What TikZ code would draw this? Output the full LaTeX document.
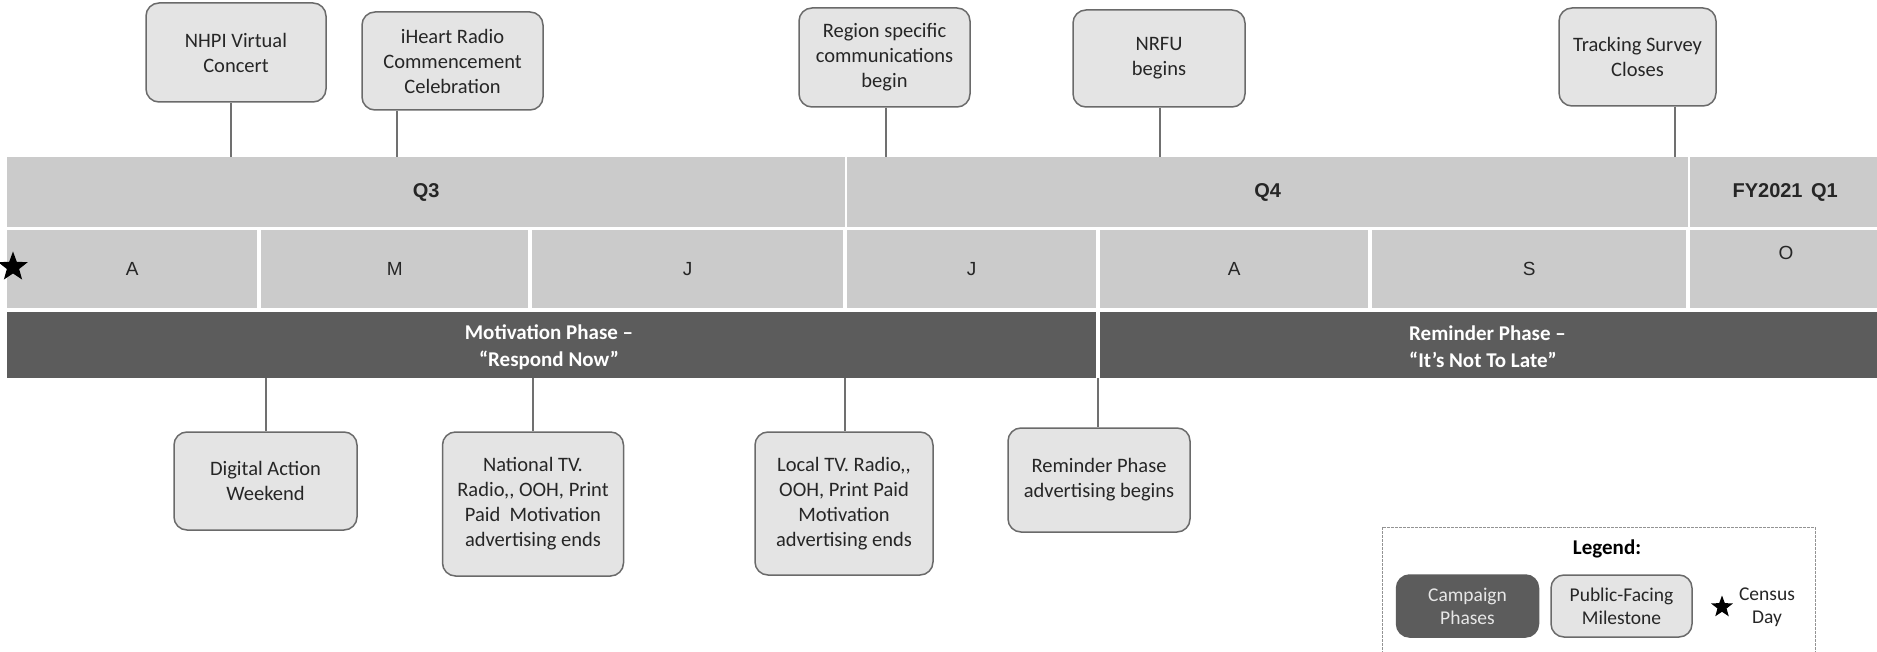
\documentclass[tikz,border=0pt]{standalone}
\usepackage{fontspec}
\setmainfont{Carlito}
\newfontfamily\arl{Liberation Sans}
\usetikzlibrary{shapes.geometric}
\definecolor{bandgray}{HTML}{CBCBCB}
\definecolor{boxfill}{HTML}{E4E4E4}
\definecolor{darkband}{HTML}{5C5C5C}
\definecolor{edgegray}{HTML}{6A6A6A}
\definecolor{linegray}{HTML}{707070}
\definecolor{txt}{HTML}{262626}
\begin{document}
\begin{tikzpicture}[x=1pt,y=-1pt,
  band/.style={fill=bandgray, draw=none, inner sep=0pt, anchor=north west, minimum height=70pt},
  month/.style={fill=bandgray, draw=none, inner sep=0pt, anchor=north west, minimum height=78pt, font=\arl\fontsize{19}{23}\selectfont, text=txt},
  qlabel/.style={font=\arl\bfseries\fontsize{20}{24}\selectfont, text=txt},
  phase/.style={fill=darkband, draw=none, inner sep=0pt, anchor=north west, minimum height=66pt},
  phasetext/.style={font=\bfseries\fontsize{21}{27}\selectfont, text=white, inner sep=0pt},
  mile/.style={draw=edgegray, line width=1.5pt, fill=boxfill, rounded corners=13pt, align=center, inner sep=0pt, font=\fontsize{20.5}{25}\selectfont, text=txt},
  conn/.style={draw=linegray, line width=2pt},
  censusstar/.style={star, star points=5, star point ratio=2.4, fill=black, draw=none, inner sep=0pt}
]
\useasboundingbox[fill=white] (0,0) rectangle (1877,652);

% quarter band
\node[band, minimum width=838pt, qlabel] (q3) at (7,157) {Q3};
\node[band, minimum width=841pt, qlabel] (q4) at (847,157) {Q4};
\node[band, minimum width=190pt, qlabel] (q1) at (1690,157) {FY2021\hspace{3pt} Q1};

% month band
\node[month, minimum width=250pt] (mA1) at (7,230) {A};
\node[month, minimum width=267pt] (mM) at (261,230) {M};
\node[month, minimum width=311pt] (mJ1) at (532,230) {J};
\node[month, minimum width=249pt] (mJ2) at (847,230) {J};
\node[month, minimum width=268pt] (mA2) at (1100,230) {A};
\node[month, minimum width=314pt] (mS) at (1372,230) {S};
\node[month, minimum width=190pt] (mO) at (1690,230) {};
\node[font=\arl\fontsize{19}{23}\selectfont, text=txt] (olab) at (1786,253) {O};

% census day star
\node[censusstar, minimum size=31pt] (cstar) at (13,267) {};

% phase band
\node[phase, minimum width=1089pt] (mot) at (7,312) {};
\node[phase, minimum width=780pt] (rem) at (1100,312) {};
\node[phasetext, align=center] (mottxt) at (549,347) {Motivation Phase --\\``Respond Now''};
\node[phasetext, align=left, anchor=west] (remtxt) at (1409,347) {Reminder Phase --\\``It's Not To Late''};

% top milestones
\node[mile, minimum width=180pt, minimum height=99pt] (nhpi) at (236,52.5) {NHPI Virtual\\Concert};
\node[mile, minimum width=181pt, minimum height=98pt] (iheart) at (452.5,61) {iHeart Radio\\Commencement\\Celebration};
\node[mile, minimum width=171pt, minimum height=99pt] (region) at (884.5,57.5) {Region specific\\communications\\begin};
\node[mile, minimum width=172pt, minimum height=97pt] (nrfu) at (1159,58.5) {NRFU\\begins};
\node[mile, minimum width=157pt, minimum height=98pt] (track) at (1637.5,57) {Tracking Survey\\Closes};

\coordinate (t1) at (231,157);
\coordinate (t2) at (397,157);
\coordinate (t3) at (886,157);
\coordinate (t4) at (1160,157);
\coordinate (t5) at (1675,157);
\draw[conn] (t1 |- nhpi.south) -- (t1);
\draw[conn] (t2 |- iheart.south) -- (t2);
\draw[conn] (t3 |- region.south) -- (t3);
\draw[conn] (t4 |- nrfu.south) -- (t4);
\draw[conn] (t5 |- track.south) -- (t5);

% bottom milestones
\node[mile, minimum width=183pt, minimum height=98pt] (digital) at (265.5,481) {Digital Action\\Weekend};
\node[mile, minimum width=181pt, minimum height=144pt] (national) at (533,504) {National TV.\\Radio,{}, OOH, Print\\Paid\ \ Motivation\\advertising ends};
\node[mile, minimum width=178pt, minimum height=143pt] (local) at (844,503.5) {Local TV. Radio,{},\\OOH, Print Paid\\Motivation\\advertising ends};
\node[mile, minimum width=182pt, minimum height=104pt] (remind) at (1099,480) {Reminder Phase\\advertising begins};

\coordinate (b1) at (266,378);
\coordinate (b2) at (533,378);
\coordinate (b3) at (845,378);
\coordinate (b4) at (1098,378);
\draw[conn] (b1) -- (b1 |- digital.north);
\draw[conn] (b2) -- (b2 |- national.north);
\draw[conn] (b3) -- (b3 |- local.north);
\draw[conn] (b4) -- (b4 |- remind.north);

% legend
\draw[draw=gray!85, line width=1pt, dash pattern=on 3pt off 1pt] (1382,527) rectangle (1815,662);
\node[font=\bfseries\fontsize{21}{25}\selectfont, text=black] (legtitle) at (1607,549) {Legend:};
\node[mile, fill=darkband, draw=darkband, text=white!85!darkband, minimum width=142pt, minimum height=62pt, font=\fontsize{19.5}{23}\selectfont] (legphase) at (1467.5,606) {Campaign\\Phases};
\node[mile, minimum width=141pt, minimum height=62pt, font=\fontsize{19.5}{23}\selectfont] (legmile) at (1621.5,606) {Public-Facing\\Milestone};
\node[censusstar, minimum size=23pt] (legstar) at (1722,607) {};
\node[align=center, inner sep=0pt, font=\fontsize{19.5}{23}\selectfont, text=txt] (legcensus) at (1767,607.5) {Census\\Day};
\end{tikzpicture}
\end{document}
